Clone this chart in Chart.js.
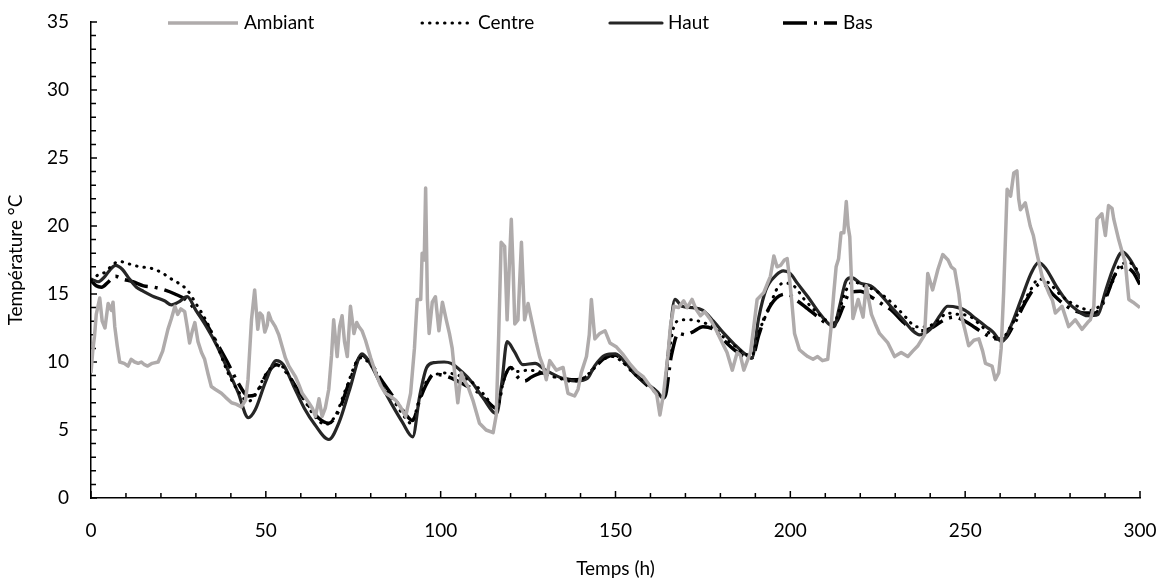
<!DOCTYPE html>
<html>
<head>
<meta charset="utf-8">
<script src="https://cdn.jsdelivr.net/npm/chart.js@4.4.1/dist/chart.umd.min.js"></script>
<style>
  html, body { margin: 0; padding: 0; background: #fff; }
</style>
</head>
<body>
<canvas id="chart" width="1170" height="584"></canvas>
<script>
// Ambiant (gris)
var ambT = [0,0.5,1,1.5,2.5,3.2,4,4.9,5.8,6.3,6.8,7.5,8.2,9.5,10.6,11.5,12.5,13.5,14.4,15.3,16.2,17.5,19.2,20.5,22,23,24,24.8,25.7,26.8,27.5,28.2,29,29.7,30.6,31.6,32.5,33.5,34.4,35.5,37.3,38.5,40.2,41.5,43,44.2,44.9,45.9,46.8,47.7,48.3,49,49.7,50.4,50.8,51.5,52.7,53.7,54.7,55.6,56.6,58.5,59.5,60.4,62.3,63.3,64.2,65.2,66.1,67,68,68.8,69.4,70.4,71.1,71.8,72.5,73.3,74.2,75.2,76,76.6,77.5,78.5,80,81.4,82.8,84.2,85.5,87.1,88.5,90,91.4,92.5,93.3,94.3,94.7,95.3,95.7,96.2,96.7,97.6,98.5,99.5,100.5,101.6,102.5,103.3,104,104.9,105.9,106.8,107.8,109.2,110.2,111.1,113,115,115.9,116.6,117.3,118.3,119,119.7,120.2,120.7,121.2,122.1,123.1,124,125,126.4,127.3,128.3,129.3,130.2,131.2,133.1,135,136.4,138.3,139.3,140.2,141.7,142.5,143.1,144.1,145.5,147,148.4,150.3,152,154.3,156,158,160,161.8,162.7,163.7,165,165.7,166.7,168,169.5,170.5,171.9,173,174.3,175.5,177.2,178.5,180,181.9,183.4,184.8,185.7,186.7,188.6,189.5,190.5,192.4,193.5,194.3,195.3,196.2,197.2,198.3,199.1,199.7,200.4,201.2,202.6,204,205,206.5,207.8,209.2,210.7,211.6,212.4,213.1,213.8,214.5,215.3,216,216.5,217,217.9,219.4,220.8,221.7,223.2,224.3,225.5,227.9,229.8,231.7,233.6,235,236.5,238.4,239.3,240.7,242.2,243.6,245.1,246,247,248.2,248.9,249.9,251,252.5,253.9,255,255.8,257.7,258.6,259.6,260.3,261,262,263,263.9,264.8,265.3,265.8,267.2,268.6,269.5,270.5,272,273.9,275,275.8,277.7,279.6,281.5,283.4,285,285.8,286.8,287.7,289.1,290.1,291,292,292.5,293.9,295,295.8,296.8,298,300];
var ambV = [9.2,10.8,11.9,13.5,14.7,13.0,12.5,14.3,13.8,14.4,12.6,11.2,10.0,9.9,9.7,10.2,10.0,9.9,10.0,9.8,9.7,9.9,10.0,10.8,12.4,13.2,14.1,13.5,13.9,13.7,12.6,11.4,12.3,12.9,11.5,10.7,10.2,9.1,8.2,8.0,7.7,7.4,7.0,6.9,6.7,7.2,8.7,13.1,15.3,12.4,13.6,13.4,12.2,12.7,13.6,13.1,12.6,12.0,11.1,10.3,9.7,8.9,8.3,7.7,7.0,6.6,6.0,7.3,6.0,6.6,8.0,10.5,13.1,10.4,12.6,13.4,11.5,10.4,14.1,12.1,12.9,12.6,12.3,11.6,10.3,9.2,8.3,7.7,7.5,7.2,6.7,6.0,7.7,11.0,14.6,14.6,18.0,17.5,22.8,14.6,12.1,14.4,14.8,12.3,14.4,13.1,12.1,11.0,9.2,7.0,9.2,8.6,8.2,7.2,6.3,5.5,5.0,4.8,6.1,12.0,18.8,18.5,13.1,17.5,20.5,17.0,12.8,13.1,18.8,13.1,14.3,12.6,11.5,10.4,9.7,8.7,10.1,9.4,9.6,7.7,7.5,8.0,9.2,10.4,12.0,14.6,11.7,12.1,12.3,11.4,11.1,10.6,9.8,9.3,8.9,8.2,7.6,6.1,7.6,10.5,12.6,14.1,14.0,14.5,14.0,14.6,13.9,13.4,13.7,13.1,12.5,11.7,10.7,9.4,10.7,10.5,9.4,10.7,12.5,14.6,15.1,15.8,16.3,17.8,17.0,17.1,17.5,17.6,16.3,14.5,12.1,10.9,10.6,10.4,10.2,10.4,10.1,10.2,12.4,15.0,17.0,17.6,19.5,19.5,21.8,20.0,19.2,13.2,14.6,13.3,15.6,13.5,12.8,12.1,11.4,10.4,10.7,10.4,10.8,11.2,12.0,16.5,15.3,16.8,17.9,17.5,17.0,16.8,15.0,13.4,12.4,11.2,11.6,11.7,10.8,9.9,9.7,8.7,9.2,11.0,15.1,22.7,22.2,23.9,24.05,22.0,21.2,21.7,20.0,19.3,18.0,16.3,15.1,14.5,13.6,14.1,12.6,13.1,12.4,12.9,13.1,14.1,20.5,20.9,19.3,21.5,21.3,20.5,19.0,18.0,17.3,14.6,14.4,14.0];

// Centre (pointillé)
var centreT = [0,2,4,6,8,11,14,17,20,23,25,27.5,30,33,36,39,42,45,47,50,53,55,58,61,64,67,70,73,77,80,83,86,89,91.5,94,96,98,101,104,107,110,113,116,118,120,122,125,128,131,134,137,140,143,146,149,152,155,158,161,163.5,165,167,169,172,175,178,181,184,187,189,191,194,196,198,201,204,207,210,212.5,214,216,218,221,224,227,230,233,236,239,242,245,248,251,254,257,260,263,266,268.5,271,274,277,280,283,286,289,292,294.5,297,300];
var centreV = [16.0,16.4,16.6,17.1,17.4,17.2,17.0,16.9,16.6,16.1,15.8,15.3,14.3,13.0,11.3,9.3,7.9,7.1,7.6,9.1,9.8,9.6,8.4,7.2,6.0,5.4,6.1,8.1,10.3,9.8,8.6,7.4,6.2,5.5,7.3,8.6,9.0,9.2,9.1,8.8,8.3,7.4,6.5,8.6,9.6,9.3,9.4,9.3,9.0,8.8,8.6,8.7,9.3,10.1,10.4,10.0,9.2,8.6,8.0,7.4,10.2,12.8,13.1,13.1,12.9,12.6,11.8,11.2,10.6,10.5,12.2,14.0,15.3,15.8,15.6,14.6,13.8,13.1,12.9,13.8,15.3,15.9,15.6,15.3,14.8,14.1,13.3,12.6,12.6,13.0,13.6,13.5,13.4,12.8,12.1,11.6,12.6,14.0,15.2,16.1,15.8,15.0,14.4,14.0,13.8,14.3,15.8,17.2,17.3,16.5];

// Haut (trait plein)
var hautT = [0,2,4,5.5,7,9,11,13,15,18,21,23,25,27.5,30,33,36,39,42,45,47,50,53,55,58,61,64,68,71,74,77.5,80,83,86,89,92,94,96,98,101,103,106,109,112,116,117.5,119,121,123.5,127,130,133,136,139,142,144,147,150,153,156,159,162,163.7,165,167,169,172,175,178,181,184,187,189,191,193,196,198,200,202,205,208,211,212.5,214,216,217.5,220,223,226,229,232,235,237,240,243,245,248,250,253,256,258,260.5,263,266,269,271,273,276,279,282,285,288,290,292.5,295,297,300];
var hautV = [16.1,15.9,16.3,16.8,17.1,16.8,16.1,15.5,15.2,14.8,14.5,14.2,14.4,14.8,13.8,12.6,11.2,9.5,7.8,5.9,6.5,8.6,10.1,9.8,8.2,6.6,5.4,4.3,5.6,8.0,10.6,9.8,8.3,6.9,5.6,4.5,7.5,9.6,9.95,10.0,9.9,9.3,8.5,7.4,6.2,8.5,11.5,10.8,9.8,9.9,9.4,9.0,8.7,8.6,8.8,9.7,10.5,10.6,9.9,9.0,8.4,7.8,7.3,10.5,14.6,14.1,14.0,13.8,13.0,12.1,11.3,10.6,10.3,13.3,15.3,16.4,16.7,16.5,15.8,14.8,13.7,12.8,12.6,14.0,16.0,16.2,15.8,15.6,14.9,14.0,13.2,12.3,12.0,12.4,13.5,14.1,14.0,13.8,13.2,12.6,12.2,11.5,12.6,14.6,16.6,17.3,16.9,15.6,14.5,13.8,13.4,13.5,15.1,17.0,18.1,17.6,16.2];

// Bas (tiret-point)
var basT = [0,1.5,3,5,7,9,12,15,18,21,24,27,30,33,36,39,42,45,47,50,53,56,59,62,65,68,71,74,77.5,80,83,86,89,92,94,96,98,101,104,107,110,113,116,118,120,122,124,126,129,132,135,138,141,144,147,150,153,156,159,162,164,166,168,170,172,175,178,181,184,187,189,191,193,196,199,202,205,208,211,213,215,217,220,223,226,229,232,235,238,241,244,247,250,253,256,259,261,264,267,270,272,275,278,281,284,287,290,293,295.5,298,300];
var basV = [16.0,15.6,15.5,15.9,16.3,16.1,15.9,15.6,15.5,15.3,15.0,14.6,13.8,12.8,11.4,10.0,8.5,7.5,7.6,9.0,9.8,9.2,8.0,6.9,5.9,5.5,6.5,8.6,10.5,9.9,8.7,7.6,6.5,5.7,7.2,8.4,9.1,9.0,8.7,8.3,7.9,7.2,6.6,8.7,9.6,8.9,8.6,8.9,9.2,9.0,8.8,8.7,8.8,9.6,10.3,10.5,9.8,9.0,8.3,7.7,7.4,10.5,12.1,12.0,12.2,12.6,12.4,11.6,10.9,10.4,10.3,12.0,13.5,14.7,15.0,14.5,13.9,13.3,12.8,12.9,14.0,15.1,15.2,14.8,14.3,13.8,13.0,12.4,12.3,12.6,13.1,13.3,13.0,12.5,12.0,11.7,11.7,12.8,14.3,15.5,15.8,15.0,14.3,13.8,13.6,13.6,14.6,16.5,17.0,16.6,15.7];

function pts(ts, vs) {
    return ts.map(function(t, i){ return {x: t, y: vs[i]}; });
}

var FONT = 'Lato, "Open Sans", sans-serif';

// petites graduations vers l'intérieur
var innerTicks = {
    id: 'innerTicks',
    beforeDatasetsDraw: function(chart) {
        var ctx = chart.ctx, x = chart.scales.x, y = chart.scales.y;
        var a = chart.chartArea;
        ctx.save();
        ctx.strokeStyle = '#000';
        ctx.lineWidth = 1.5;
        ctx.beginPath();
        for (var v = 0; v <= 35; v++) {
            var py = y.getPixelForValue(v);
            ctx.moveTo(a.left, py);
            ctx.lineTo(a.left + (v % 5 === 0 ? 6 : 5), py);
        }
        for (var t = 0; t <= 300; t += 10) {
            var px = x.getPixelForValue(t);
            ctx.moveTo(px, a.bottom);
            ctx.lineTo(px, a.bottom - (t % 50 === 0 ? 7 : 5));
        }
        ctx.stroke();
        ctx.restore();
    }
};

// légende placée comme dans l'original (dans la zone du graphique)
var legendPos = [ {x: 168, len: 70}, {x: 422, len: 50}, {x: 610, len: 52}, {x: 783, len: 54} ];
var legendInside = {
    id: 'legendInside',
    afterDraw: function(chart) {
        var ctx = chart.ctx;
        var yl = chart.chartArea.top + 1;
        ctx.save();
        chart.data.datasets.forEach(function(ds, i) {
            var p = legendPos[i];
            ctx.beginPath();
            ctx.strokeStyle = ds.borderColor;
            ctx.lineWidth = ds.borderWidth;
            ctx.lineCap = ds.borderCapStyle || 'butt';
            ctx.setLineDash(ds.borderDash || []);
            ctx.moveTo(p.x, yl);
            ctx.lineTo(p.x + p.len, yl);
            ctx.stroke();
            ctx.setLineDash([]);
            ctx.fillStyle = '#000';
            ctx.font = '19px ' + FONT;
            ctx.textBaseline = 'middle';
            ctx.fillText(ds.label, p.x + p.len + 6, yl);
        });
        ctx.restore();
    }
};

var ctx = document.getElementById('chart');
var chart = new Chart(ctx, {
    type: 'line',
    data: {
        datasets: [
            {
                label: 'Ambiant',
                data: pts(ambT, ambV),
                borderColor: '#AFABAB',
                borderWidth: 3.5,
                borderJoinStyle: 'round',
                tension: 0
            },
            {
                label: 'Centre',
                data: pts(centreT, centreV),
                borderColor: '#000',
                borderWidth: 3,
                borderCapStyle: 'round',
                borderDash: [0.5, 7],
                cubicInterpolationMode: 'monotone'
            },
            {
                label: 'Haut',
                data: pts(hautT, hautV),
                borderColor: '#262626',
                borderWidth: 3.2,
                borderCapStyle: 'round',
                cubicInterpolationMode: 'monotone'
            },
            {
                label: 'Bas',
                data: pts(basT, basV),
                borderColor: '#000',
                borderWidth: 3.5,
                borderDash: [24, 7, 3, 7],
                cubicInterpolationMode: 'monotone'
            }
        ]
    },
    options: {
        responsive: false,
        animation: false,
        devicePixelRatio: 1,
        layout: { padding: { top: 22, right: 30, left: 0, bottom: 0 } },
        elements: { point: { radius: 0 } },
        plugins: {
            legend: { display: false },
            tooltip: { enabled: false }
        },
        scales: {
            x: {
                type: 'linear',
                min: 0,
                max: 300,
                afterFit: function(s) { s.height = 86; s.paddingLeft = 0; s.paddingRight = 0; },
                ticks: { stepSize: 50, color: '#000', padding: 21, font: { family: FONT, size: 19 } },
                grid: { display: false, drawTicks: false },
                border: { display: true, color: '#000', width: 1.5 },
                title: { display: true, text: 'Temps (h)', color: '#000', font: { family: FONT, size: 19 }, padding: { top: 2 } }
            },
            y: {
                min: 0,
                max: 35,
                afterFit: function(s) { s.width = 91; s.paddingTop = 0; s.paddingBottom = 0; },
                ticks: { stepSize: 5, color: '#000', padding: 22, font: { family: FONT, size: 19 } },
                grid: { display: false, drawTicks: false },
                border: { display: true, color: '#000', width: 1.5 },
                title: { display: true, text: 'Température °C', color: '#000', font: { family: FONT, size: 19 }, padding: { bottom: 0 } }
            }
        }
    },
    plugins: [innerTicks, legendInside]
});
</script>
</body>
</html>
